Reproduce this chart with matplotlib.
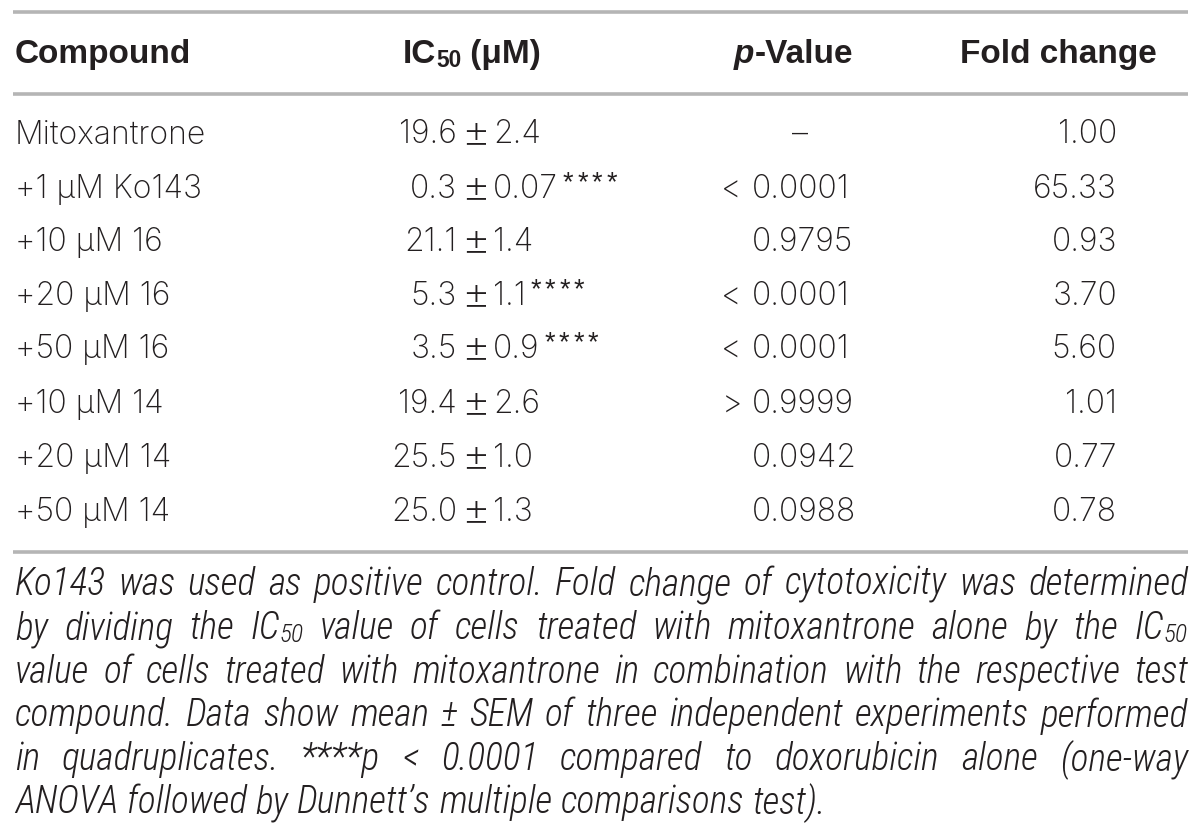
import matplotlib
matplotlib.use("Agg")
import matplotlib.pyplot as plt
from matplotlib import font_manager
from matplotlib.font_manager import FontProperties
from matplotlib.transforms import IdentityTransform

W, H = 1200, 828
INK = "#231f20"
RULE = "#b5b5b5"

# table data
compounds = ["Mitoxantrone", "+1 μM Ko143", "+10 μM 16", "+20 μM 16",
             "+50 μM 16", "+10 μM 14", "+20 μM 14", "+50 μM 14"]
ic50_mean = ["19.6", "0.3", "21.1", "5.3", "3.5", "19.4", "25.5", "25.0"]
ic50_sem = ["2.4", "0.07", "1.4", "1.1", "0.9", "2.6", "1.0", "1.3"]
ic50_sig = [0, 4, 0, 4, 4, 0, 0, 0]   # number of stars
p_sign = ["", "<", "", "<", "<", ">", "", ""]
p_values = ["–", "0.0001", "0.9795", "0.0001", "0.0001", "0.9999", "0.0942", "0.0988"]
fold_change = [1.00, 65.33, 0.93, 3.70, 5.60, 1.01, 0.77, 0.78]

caption_lines = [
    "Ko143 was used as positive control. Fold change of cytotoxicity was determined",
    "by dividing the IC50 value of cells treated with mitoxantrone alone by the IC50",
    "value of cells treated with mitoxantrone in combination with the respective test",
    "compound. Data show mean ± SEM of three independent experiments performed",
    "in quadruplicates. ****p < 0.0001 compared to doxorubicin alone (one-way",
    "ANOVA followed by Dunnett’s multiple comparisons test).",
]


def find_face(options, needles):
    # first installed face whose file name looks right
    for fam, kw in options:
        try:
            path = font_manager.findfont(FontProperties(family=fam, **kw),
                                         fallback_to_default=False)
        except ValueError:
            continue
        low = path.lower()
        if all(any(n in low for n in group) for group in needles):
            return FontProperties(fname=path)
    return None


body_fp = find_face([("Roboto", dict(weight="light")),
                     ("Lato", dict(weight="light")),
                     ("Noto Sans", dict(weight="light")),
                     ("Inter", dict(weight="light"))], [("light",)])
if body_fp is None:
    body_fp = FontProperties(family="Liberation Sans")
sym_fp = FontProperties(family="Liberation Sans")
bold_fp = FontProperties(family="Liberation Sans", weight="bold")
bold_it_fp = FontProperties(family="Liberation Sans", weight="bold", style="italic")

cap_fp = find_face([("Liberation Sans Narrow", dict(style="italic")),
                    ("Roboto Condensed", dict(style="italic", weight="light")),
                    ("Roboto", dict(style="italic", stretch="condensed", weight="light")),
                    ("Noto Sans", dict(style="italic", stretch="condensed", weight="light")),
                    ("Open Sans", dict(style="italic", stretch="condensed")),
                    ("DejaVu Sans", dict(style="oblique", stretch="condensed"))],
                   [("narrow", "cond"), ("italic", "oblique")])
if cap_fp is None:
    cap_fp = FontProperties(family="Liberation Sans", style="italic")

FS = 23
HS = 24

fig = plt.figure(figsize=(W / 100, H / 100), dpi=100)
fig.patch.set_facecolor("white")
renderer = fig.canvas.get_renderer()


def put(x, y, s, fp=None, size=FS, ha="left", va="center"):
    p = (fp or body_fp).copy()
    p.set_size(size)
    t = fig.text(x, H - y, s, transform=IdentityTransform(), ha=ha, va=va,
                 fontproperties=p, color=INK)
    return t, t.get_window_extent(renderer=renderer).width


def rule(y):
    fig.add_artist(plt.Line2D([13, 1188], [H - y, H - y], transform=IdentityTransform(),
                              color=RULE, lw=2.6, solid_capstyle="butt"))


rule(13)
rule(95)
rule(553)

# header
hy = 55
put(15, hy, "Compound", bold_fp, HS)
_, w = put(403, hy, "IC", bold_fp, HS)
_, w2 = put(403 + w, hy + 6, "50", bold_fp, HS * 0.68)
put(403 + w + w2, hy, " (μM)", bold_fp, HS)
_, wv = put(853, hy, "-Value", bold_fp, HS, ha="right")
put(853 - wv, hy, "p", bold_it_fp, HS, ha="right")
put(1157, hy, "Fold change", bold_fp, HS, ha="right")

# rows
row_y = [135, 190, 243, 297, 350, 405, 459, 513]
for i, y in enumerate(row_y):
    put(15, y, compounds[i])
    put(457, y, ic50_mean[i], ha="right")
    put(476, y, "±", body_fp, FS * 1.4, ha="center")
    _, w = put(493, y, ic50_sem[i])
    for k in range(ic50_sig[i]):
        put(503 + w + 14.5 * k, y - 7, "*", sym_fp, FS * 0.85, ha="center")
    if p_values[i] == "–":
        put(800, y, p_values[i], ha="center")
    else:
        put(752, y, p_values[i])
        if p_sign[i]:
            put(742, y, p_sign[i], ha="right")
    put(1117, y, f"{fold_change[i]:.2f}", ha="right")


# caption, justified
def word_runs(word):
    if "IC50" in word:
        pre, post = word.split("IC50", 1)
        return [(pre + "IC", 0, 1.0), ("50", 6, 0.68), (post, 0, 1.0)]
    return [(word, 0, 1.0)]


def measure(word, size):
    total = 0
    for s, dy, k in word_runs(word):
        if not s:
            continue
        t, w = put(0, -100, s, cap_fp, size * k)
        t.remove()
        total += w
    return total


x0, x1 = 15, 1188
probe = 20
t, sp = put(0, -100, "a a", cap_fp, probe)
t.remove()
t, aa = put(0, -100, "aa", cap_fp, probe)
t.remove()
space_w = sp - aa
widest = max(sum(measure(wd, probe) for wd in ln.split()) + space_w * (len(ln.split()) - 1)
             for ln in caption_lines)
cap_size = min(27, probe * (x1 - x0) * 0.99 / widest)
space_w = space_w * cap_size / probe

cap_y = [585, 629, 673, 716, 760, 803]
for j, (ln, y) in enumerate(zip(caption_lines, cap_y)):
    words = ln.split()
    widths = [measure(wd, cap_size) for wd in words]
    last = j == len(caption_lines) - 1
    gap = space_w if last else ((x1 - x0) - sum(widths)) / (len(words) - 1)
    x = x0
    for wd, ww in zip(words, widths):
        xx = x
        for s, dy, k in word_runs(wd):
            if not s:
                continue
            _, w = put(xx, y + dy, s, cap_fp, cap_size * k)
            xx += w
        x += ww + gap

fig.savefig("out.png", dpi=100, facecolor="white")
